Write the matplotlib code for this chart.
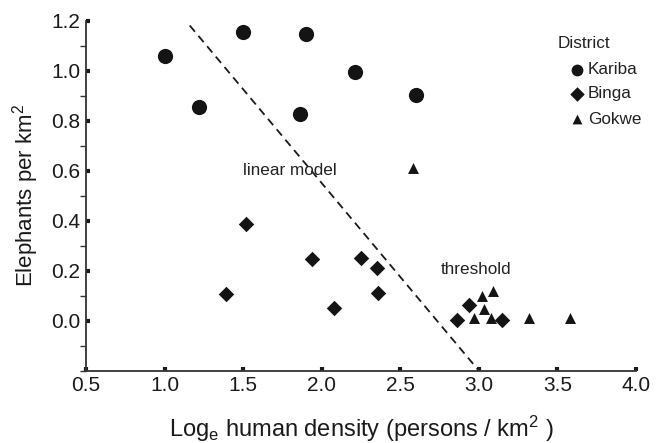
import matplotlib
matplotlib.use("Agg")
import matplotlib.pyplot as plt
from matplotlib.ticker import MultipleLocator, FixedLocator

plt.rcParams['font.family'] = ['Liberation Sans', 'DejaVu Sans']
plt.rcParams['mathtext.fontset'] = 'custom'
plt.rcParams['mathtext.rm'] = 'Liberation Sans'
plt.rcParams['mathtext.it'] = 'Liberation Sans:italic'

# Data
kariba_x = [1.00, 1.22, 1.50, 1.90, 1.86, 2.21, 2.60]
kariba_y = [1.06, 0.855, 1.155, 1.148, 0.828, 0.995, 0.903]

binga_x = [1.52, 1.39, 1.94, 2.08, 2.25, 2.35, 2.36, 2.94, 2.86, 3.15]
binga_y = [0.387, 0.107, 0.247, 0.051, 0.249, 0.209, 0.111, 0.063, 0.004, 0.004]

gokwe_x = [2.58, 3.02, 3.09, 3.03, 2.97, 3.08, 3.32, 3.58]
gokwe_y = [0.609, 0.097, 0.117, 0.047, 0.009, 0.009, 0.009, 0.009]

line_x = [1.16, 3.00]
line_y = [1.18, -0.20]

xticks = [0.5, 1.0, 1.5, 2.0, 2.5, 3.0, 3.5, 4.0]
yticks = [0.0, 0.2, 0.4, 0.6, 0.8, 1.0, 1.2]

fig = plt.figure(figsize=(6.63, 4.43), dpi=100)
ax = fig.add_axes([86/663, 1 - 370.7/443, (636-86)/663, (370.7-20.5)/443])

ax.plot(line_x, line_y, ls=(0, (4.5, 3)), color='#1a1a1a', lw=1.3)
ax.scatter(kariba_x, kariba_y, marker='o', s=120, color='#141414', zorder=3, linewidths=0)
ax.scatter(binga_x, binga_y, marker='D', s=62, color='#141414', zorder=3, linewidths=0)
ax.scatter(gokwe_x, gokwe_y, marker='^', s=62, color='#141414', zorder=3, linewidths=0)

ax.text(1.80, 0.60, 'linear model', fontsize=12.3, ha='center', va='center', color='#222222')
ax.text(2.98, 0.205, 'threshold', fontsize=12.3, ha='center', va='center', color='#222222')

# Legend (manual)
ax.text(3.50, 1.108, 'District', fontsize=12.3, ha='left', va='center', color='#222222')
leg_items = [('o', 'Kariba', 72, 1.004), ('D', 'Binga', 55, 0.908), ('^', 'Gokwe', 50, 0.806)]
for m, lab, s, yy in leg_items:
    ax.scatter([3.625], [yy], marker=m, s=s, color='#141414', linewidths=0, clip_on=False)
    ax.text(3.695, yy, lab, fontsize=12.3, ha='left', va='center', color='#222222')

ax.set_xlim(0.5, 4.0)
ax.set_ylim(-0.2, 1.2)
ax.xaxis.set_major_locator(FixedLocator(xticks))
ax.yaxis.set_major_locator(FixedLocator(yticks))
ax.yaxis.set_minor_locator(MultipleLocator(0.1))
ax.set_xticklabels([f'{v:.1f}' for v in xticks])
ax.set_yticklabels([f'{v:.1f}' for v in yticks])

for s in ['top', 'right']:
    ax.spines[s].set_visible(False)
for s in ['left', 'bottom']:
    ax.spines[s].set_linewidth(1.3)
    ax.spines[s].set_color('#333333')

ax.tick_params(axis='both', which='major', direction='in', length=3, width=3,
               labelsize=15, colors='#1a1a1a', pad=4)
ax.tick_params(axis='y', which='minor', direction='out', length=4, width=1, colors='#333333')

ax.set_xlabel('Log$_\\mathrm{e}$ human density (persons / km$^2$ )', fontsize=17,
              labelpad=13, color='#1a1a1a')
ax.set_ylabel('Elephants per km$^2$', fontsize=16, labelpad=7, color='#1a1a1a')

fig.savefig('out.png', dpi=100)
